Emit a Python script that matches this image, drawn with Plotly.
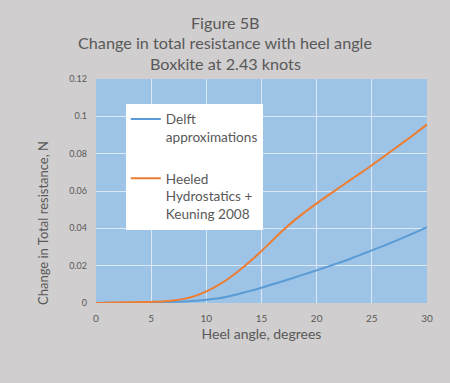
import plotly.graph_objects as go

heel_deg = list(range(0, 31))
delft = [0, 0.0001, 0.0001, 0.0002, 0.0002, 0.0003, 0.0004, 0.0006, 0.0008, 0.0012,
         0.0017, 0.0024, 0.0035, 0.0050, 0.0065, 0.0082, 0.0100, 0.0118, 0.0137, 0.0156,
         0.0175, 0.0195, 0.0215, 0.0236, 0.0259, 0.0282, 0.0305, 0.0329, 0.0354, 0.0380, 0.0406]
heeled = [0, 0.0002, 0.0003, 0.0004, 0.0005, 0.0006, 0.0008, 0.0013, 0.0022, 0.0038,
          0.0062, 0.0093, 0.0130, 0.0175, 0.0225, 0.0279, 0.0336, 0.0392, 0.0444, 0.0490,
          0.0534, 0.0575, 0.0616, 0.0657, 0.0697, 0.0738, 0.0781, 0.0824, 0.0867, 0.0911, 0.0957]
x_ticks = [0, 5, 10, 15, 20, 25, 30]
y_ticks = [0, 0.02, 0.04, 0.06, 0.08, 0.1, 0.12]
title_lines = ["Figure 5B", "Change in total resistance with heel angle", "Boxkite at 2.43 knots"]
y_title = "Change in Total resistance, N"
x_title = "Heel angle, degrees"

grey = "#595959"
fig = go.Figure()
fig.add_trace(go.Scatter(x=heel_deg, y=delft, mode="lines", name="Delft<br>approximations",
                         line=dict(color="#5b9bd5", width=2, shape="spline"), legendgroup="a"))
fig.add_trace(go.Scatter(x=heel_deg, y=heeled, mode="lines",
                         name="Heeled<br>Hydrostatics +<br>Keuning 2008",
                         line=dict(color="#ed7d31", width=2, shape="spline"), legendgroup="b"))

annotations = []
for i, line in enumerate(title_lines):
    yc = 22 + 20.5 * i
    annotations.append(dict(text=line, xref="paper", yref="paper", x=(225 - 96) / 331,
                            y=1 + (79 - yc) / 224, xanchor="center", yanchor="middle",
                            showarrow=False, font=dict(size=16.2, color=grey)))
annotations.append(dict(text=y_title, xref="paper", yref="paper", x=(43 - 96) / 331,
                        y=(303 - 223) / 224, xanchor="center", yanchor="middle", textangle=-90,
                        showarrow=False, font=dict(size=13, color=grey)))

fig.update_layout(
    width=450, height=383,
    paper_bgcolor="#d0cece", plot_bgcolor="#9dc3e6",
    margin=dict(l=96, r=23, t=79, b=80, autoexpand=False),
    font=dict(family="Lato", color=grey),
    legend=dict(x=0.09, y=0.89, xanchor="left", yanchor="top", bgcolor="white",
                font=dict(size=13.6, color=grey), valign="top", tracegroupgap=21,
                itemwidth=30),
    showlegend=True,
    annotations=annotations,
)
fig.update_xaxes(range=[0, 30], tickvals=x_ticks, showgrid=True, gridcolor="#dce8f4",
                 gridwidth=1, zeroline=False, showline=False, ticks="", ticklabelstandoff=8,
                 tickfont=dict(size=10, color=grey),
                 title=dict(text=x_title, font=dict(size=14, color=grey), standoff=6))
fig.update_yaxes(range=[0, 0.12], tickvals=y_ticks, showgrid=True, gridcolor="#dce8f4",
                 gridwidth=1, zeroline=False, showline=False, ticks="", ticklabelstandoff=8,
                 tickfont=dict(size=9, color=grey))

fig.write_html("out.html", config={"displayModeBar": False},
               post_script="document.body.style.margin='0';")
